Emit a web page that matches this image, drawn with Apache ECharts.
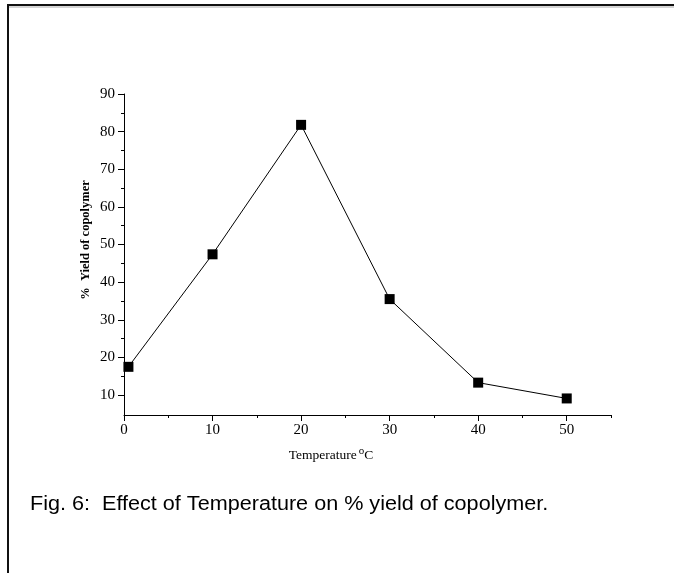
<!DOCTYPE html>
<html lang="en">
<head>
    <meta charset="UTF-8">
    <title>Fig. 6</title>
    <script src="https://cdn.jsdelivr.net/npm/echarts@6/dist/echarts.min.js"></script>
    <style>
        * {
            margin: 0;
            padding: 0;
        }
        body {
            background-color: #fff;
            overflow: hidden;
        }
        #main {
            width: 674px;
            height: 573px;
        }
    </style>
</head>
<body>
<div id="main"></div>
<script type="text/javascript">

    // data
    var temperature = [0.5, 10, 20, 30, 40, 50];
    var yieldPct = [17.5, 47.4, 81.8, 35.5, 13.3, 9.1];

    // tick positions
    var xMajorTicks = [0, 10, 20, 30, 40, 50];
    var xMinorTicks = [5, 15, 25, 35, 45, 55];
    var yMajorTicks = [10, 20, 30, 40, 50, 60, 70, 80, 90];
    var yMinorTicks = [15, 25, 35, 45, 55, 65, 75, 85];

    var serif = '"Liberation Serif", "DejaVu Serif", serif';
    var points = temperature.map(function (t, i) {
        return [t, yieldPct[i]];
    });

    var myChart = echarts.init(document.getElementById('main'));

    var option = {
        animation: false,
        backgroundColor: '#fff',
        grid: {
            left: 124,
            right: 63,
            top: 94,
            bottom: 158
        },
        xAxis: [
            {
                type: 'value',
                min: 0,
                max: 55,
                splitLine: {show: false},
                axisLine: {onZero: false, lineStyle: {color: '#000', width: 1}},
                axisTick: {
                    customValues: xMajorTicks,
                    length: 6,
                    lineStyle: {color: '#000'}
                },
                axisLabel: {
                    customValues: xMajorTicks,
                    margin: 8,
                    color: '#000',
                    fontFamily: serif,
                    fontSize: 15
                }
            },
            {
                // minor ticks only
                type: 'value',
                min: 0,
                max: 55,
                position: 'bottom',
                splitLine: {show: false},
                axisLine: {show: false},
                axisTick: {
                    customValues: xMinorTicks,
                    length: 3,
                    lineStyle: {color: '#000'}
                },
                axisLabel: {show: false}
            }
        ],
        yAxis: [
            {
                type: 'value',
                min: 4.7,
                max: 90,
                splitLine: {show: false},
                axisLine: {show: true, onZero: false, lineStyle: {color: '#000', width: 1}},
                axisTick: {
                    show: true,
                    customValues: yMajorTicks,
                    length: 6,
                    lineStyle: {color: '#000'}
                },
                axisLabel: {
                    customValues: yMajorTicks,
                    margin: 9,
                    color: '#000',
                    fontFamily: serif,
                    fontSize: 15
                }
            },
            {
                type: 'value',
                min: 4.7,
                max: 90,
                position: 'left',
                splitLine: {show: false},
                axisLine: {show: false},
                axisTick: {
                    show: true,
                    customValues: yMinorTicks,
                    length: 3,
                    lineStyle: {color: '#000'}
                },
                axisLabel: {show: false}
            }
        ],
        series: [
            {
                type: 'line',
                data: points,
                symbol: 'rect',
                symbolSize: 10,
                itemStyle: {color: '#000'},
                lineStyle: {color: '#000', width: 1}
            }
        ],
        graphic: [
            // frame
            {type: 'line', shape: {x1: 8, y1: 5, x2: 674, y2: 5}, style: {stroke: '#111', lineWidth: 2}},
            {type: 'line', shape: {x1: 8, y1: 7, x2: 674, y2: 7}, style: {stroke: '#aaa', lineWidth: 1}},
            {type: 'line', shape: {x1: 8, y1: 4, x2: 8, y2: 573}, style: {stroke: '#111', lineWidth: 2}},
            // y axis title
            {
                type: 'text',
                x: 86,
                y: 240,
                rotation: Math.PI / 2,
                style: {
                    text: '%  Yield of copolymer',
                    fontFamily: serif,
                    fontSize: 12.5,
                    fontWeight: 'bold',
                    fill: '#000',
                    align: 'center',
                    verticalAlign: 'middle'
                }
            },
            // x axis title
            {
                type: 'text',
                x: 331,
                y: 454,
                style: {
                    text: '{a|Temperature}{s|o}{a|C}',
                    align: 'center',
                    verticalAlign: 'middle',
                    rich: {
                        a: {fontFamily: serif, fontSize: 13.5, fill: '#000', verticalAlign: 'bottom'},
                        s: {fontFamily: serif, fontSize: 11, fill: '#000', verticalAlign: 'top', padding: [0, 0, 6, 2]}
                    }
                }
            },
            // caption
            {
                type: 'text',
                x: 30,
                y: 504,
                scaleX: 1.08,
                style: {
                    text: 'Fig. 6:  Effect of Temperature on % yield of copolymer.',
                    fontFamily: '"Liberation Sans", Arial, sans-serif',
                    fontSize: 20,
                    fill: '#000',
                    align: 'left',
                    verticalAlign: 'middle'
                }
            }
        ]
    };

    myChart.setOption(option);
</script>
</body>
</html>
